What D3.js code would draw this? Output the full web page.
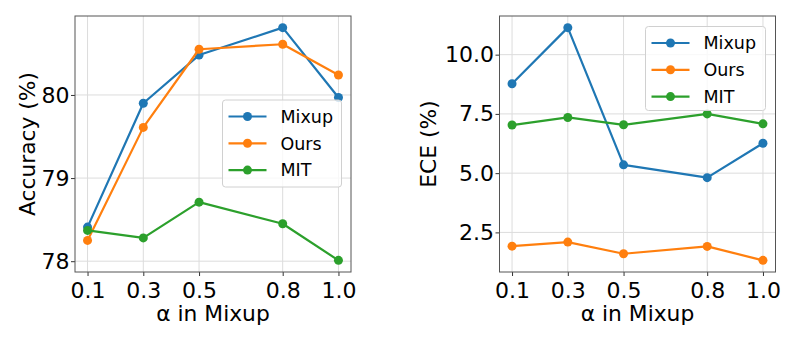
<!DOCTYPE html>
<html><head><meta charset="utf-8">
<script src="https://cdn.jsdelivr.net/npm/d3@7"></script>
<style>body{margin:0;background:#fff;} text{font-family:"DejaVu Sans",sans-serif;fill:#000;}</style>
</head><body>
<svg id="c" width="797" height="342"></svg>
<script>
const alphas = [0.1, 0.3, 0.5, 0.8, 1.0];
const xTickLabels = ["0.1", "0.3", "0.5", "0.8", "1.0"];
const seriesNames = ["Mixup", "Ours", "MIT"];
const colors = ["#1f77b4", "#ff7f0e", "#2ca02c"];
const accMixup = [78.41, 79.90, 80.48, 80.81, 79.97];
const accOurs  = [78.25, 79.61, 80.55, 80.61, 80.24];
const accMIT   = [78.37, 78.28, 78.71, 78.45, 78.01];
const eceMixup = [8.77, 11.14, 5.35, 4.81, 6.26];
const eceOurs  = [1.92, 2.09, 1.60, 1.91, 1.32];
const eceMIT   = [7.03, 7.35, 7.04, 7.50, 7.08];
const accTicks = [78, 79, 80];
const eceTicks = [2.5, 5.0, 7.5, 10.0];

const svg = d3.select("#c");

function panel(opt) {
  const {left, right, top, bottom, series, yTicks, yFmt, ylabel, ylabelX, legend} = opt;
  const g = svg.append("g");
  const all = series.flat();
  const ymin = d3.min(all), ymax = d3.max(all), yr = ymax - ymin;
  const x = d3.scaleLinear().domain([0.1 - 0.045, 1.0 + 0.045]).range([left, right]);
  const y = d3.scaleLinear().domain([ymin - 0.05*yr, ymax + 0.05*yr]).range([bottom, top]);
  // grid
  g.selectAll(".gx").data(alphas).join("line")
    .attr("x1", d => x(d)).attr("x2", d => x(d)).attr("y1", top).attr("y2", bottom)
    .attr("stroke", "#dcdcdc").attr("stroke-width", 1);
  g.selectAll(".gy").data(yTicks).join("line")
    .attr("y1", d => y(d)).attr("y2", d => y(d)).attr("x1", left).attr("x2", right)
    .attr("stroke", "#dcdcdc").attr("stroke-width", 1);
  // axes
  const xa = g.append("g").attr("transform", `translate(0,${bottom})`)
    .call(d3.axisBottom(x).tickValues(alphas).tickFormat((d,i) => xTickLabels[i]).tickSize(4).tickPadding(3));
  const ya = g.append("g").attr("transform", `translate(${left},0)`)
    .call(d3.axisLeft(y).tickValues(yTicks).tickFormat(yFmt).tickSize(4).tickPadding(1.5));
  [xa, ya].forEach(a => {
    a.select(".domain").remove();
    a.selectAll("line").attr("stroke", "#333").attr("stroke-width", 1);
    a.selectAll("text").style("font-size", "22px").attr("fill", "#000");
  });
  xa.selectAll("text").attr("dy", "0.85em");
  // frame
  g.append("rect").attr("x", left).attr("y", top).attr("width", right-left).attr("height", bottom-top)
    .attr("fill", "none").attr("stroke", "#555").attr("stroke-width", 1);
  // lines
  const line = d3.line().x((d,i) => x(alphas[i])).y(d => y(d));
  series.forEach((s, k) => {
    g.append("path").datum(s).attr("d", line).attr("fill", "none")
      .attr("stroke", colors[k]).attr("stroke-width", 2.2).attr("stroke-linejoin", "round");
    g.selectAll(null).data(s).join("circle")
      .attr("cx", (d,i) => x(alphas[i])).attr("cy", d => y(d)).attr("r", 4.5).attr("fill", colors[k]);
  });
  // labels
  g.append("text").attr("x", (left+right)/2).attr("y", 321).attr("text-anchor", "middle")
    .style("font-size", "21.8px").text("α in Mixup");
  g.append("text").attr("transform", `translate(${ylabelX},${(top+bottom)/2}) rotate(-90)`)
    .attr("text-anchor", "middle").style("font-size", "21.8px").text(ylabel);
  // legend
  const L = g.append("g");
  L.append("rect").attr("x", legend.x).attr("y", legend.y).attr("width", legend.w).attr("height", legend.h)
    .attr("rx", 3).attr("fill", "#fff").attr("fill-opacity", 0.8).attr("stroke", "#d0d0d0");
  seriesNames.forEach((n, k) => {
    const yy = legend.y + 16.5 + k*26.8;
    L.append("line").attr("x1", legend.x + 6).attr("x2", legend.x + 44).attr("y1", yy).attr("y2", yy)
      .attr("stroke", colors[k]).attr("stroke-width", 2.2);
    L.append("circle").attr("cx", legend.x + 25).attr("cy", yy).attr("r", 4.5).attr("fill", colors[k]);
    L.append("text").attr("x", legend.x + 58).attr("y", yy).attr("dy", "0.36em")
      .style("font-size", "17.5px").text(n);
  });
}

panel({left: 75, right: 351, top: 16, bottom: 272,
  series: [accMixup, accOurs, accMIT], yTicks: accTicks, yFmt: d3.format("d"),
  ylabel: "Accuracy (%)", ylabelX: 34.5,
  legend: {x: 222.5, y: 100, w: 119, h: 87}});
panel({left: 499.5, right: 775.5, top: 16, bottom: 272,
  series: [eceMixup, eceOurs, eceMIT], yTicks: eceTicks, yFmt: d3.format(".1f"),
  ylabel: "ECE (%)", ylabelX: 436,
  legend: {x: 645.5, y: 26.5, w: 120, h: 84}});
</script>
</body></html>
